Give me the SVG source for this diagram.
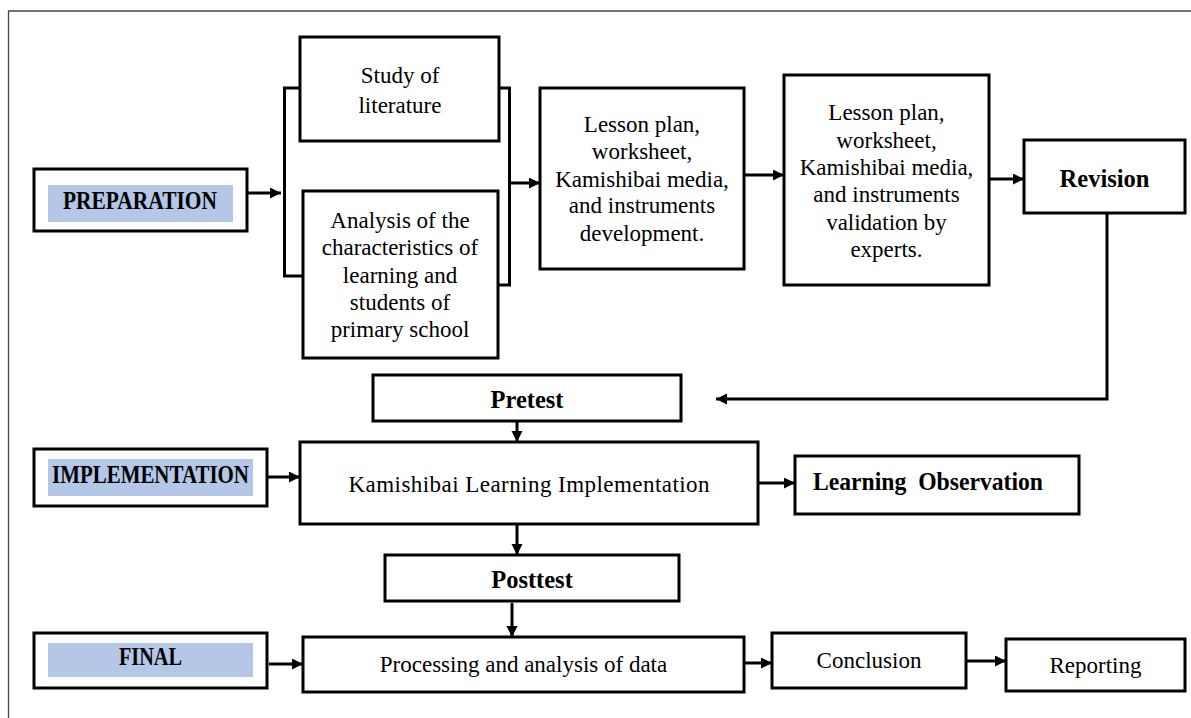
<svg xmlns="http://www.w3.org/2000/svg" width="1191" height="718" viewBox="0 0 1191 718">
<style>
.box{fill:#fff;stroke:#000;stroke-width:3}
.blue{fill:#B4C7E7}
.t{font-family:"Liberation Serif","Times New Roman",serif;font-size:23px;fill:#000;text-anchor:middle}
.b{font-family:"Liberation Serif","Times New Roman",serif;font-size:24.5px;font-weight:bold;fill:#000;text-anchor:middle}
.c{fill:none;stroke:#000;stroke-width:3}
</style>
<defs>
<marker id="ah" markerUnits="userSpaceOnUse" markerWidth="12" markerHeight="12" refX="11" refY="5.5" orient="auto">
<path d="M0,0 L11,5.5 L0,11 z" fill="#000"/>
</marker>
</defs>
<rect width="1191" height="718" fill="#fff"/>
<path d="M1191,11 H8.5 V718" fill="none" stroke="#444" stroke-width="1.3"/>

<g id="preparation">
<rect class="box" x="34" y="169" width="213" height="62"/>
<rect class="blue" x="48" y="185" width="185" height="37"/>
<text class="b" x="140" y="209" textLength="154" lengthAdjust="spacingAndGlyphs">PREPARATION</text>
</g>
<g id="study">
<rect class="box" x="300" y="37" width="199" height="104"/>
<text class="t" x="400" y="83">Study of</text>
<text class="t" x="400" y="113">literature</text>
</g>
<g id="analysis">
<rect class="box" x="303" y="191" width="195" height="167"/>
<text class="t" x="400" y="228">Analysis of the</text>
<text class="t" x="400" y="255">characteristics of</text>
<text class="t" x="400" y="283">learning and</text>
<text class="t" x="400" y="310">students of</text>
<text class="t" x="400" y="337">primary school</text>
</g>
<g id="development">
<rect class="box" x="540" y="88" width="204" height="181"/>
<text class="t" x="642" y="132">Lesson plan,</text>
<text class="t" x="642" y="159">worksheet,</text>
<text class="t" x="642" y="187">Kamishibai media,</text>
<text class="t" x="642" y="213">and instruments</text>
<text class="t" x="642" y="241">development.</text>
</g>
<g id="validation">
<rect class="box" x="784" y="75" width="205" height="210"/>
<text class="t" x="886.5" y="120">Lesson plan,</text>
<text class="t" x="886.5" y="148">worksheet,</text>
<text class="t" x="886.5" y="175">Kamishibai media,</text>
<text class="t" x="886.5" y="202">and instruments</text>
<text class="t" x="886.5" y="230">validation by</text>
<text class="t" x="886.5" y="257">experts.</text>
</g>
<g id="revision">
<rect class="box" x="1024" y="140" width="161" height="73"/>
<text class="b" x="1104.5" y="187">Revision</text>
</g>
<g id="pretest">
<rect class="box" x="373" y="375" width="308" height="46"/>
<text class="b" x="527" y="408">Pretest</text>
</g>
<g id="implementation">
<rect class="box" x="34" y="449" width="233" height="57"/>
<rect class="blue" x="48" y="459" width="205" height="37"/>
<text class="b" x="150.5" y="483" textLength="197" lengthAdjust="spacingAndGlyphs">IMPLEMENTATION</text>
</g>
<g id="kamishibai">
<rect class="box" x="300" y="442" width="458" height="82"/>
<text class="t" x="529" y="492" textLength="361" lengthAdjust="spacing">Kamishibai Learning Implementation</text>
</g>
<g id="observation">
<rect class="box" x="795" y="456" width="284" height="58"/>
<text class="b" x="813" y="490" style="text-anchor:start;white-space:pre" textLength="230" lengthAdjust="spacingAndGlyphs">Learning  Observation</text>
</g>
<g id="posttest">
<rect class="box" x="385" y="555" width="294" height="46"/>
<text class="b" x="532" y="588">Posttest</text>
</g>
<g id="final">
<rect class="box" x="34" y="633" width="233" height="55"/>
<rect class="blue" x="48" y="643" width="205" height="34"/>
<text class="b" x="150.5" y="665" textLength="63" lengthAdjust="spacingAndGlyphs">FINAL</text>
</g>
<g id="processing">
<rect class="box" x="303" y="637" width="441" height="55"/>
<text class="t" x="523.5" y="672">Processing and analysis of data</text>
</g>
<g id="conclusion">
<rect class="box" x="772" y="633" width="194" height="55"/>
<text class="t" x="869" y="668">Conclusion</text>
</g>
<g id="reporting">
<rect class="box" x="1006" y="639" width="179" height="52"/>
<text class="t" x="1095.5" y="673">Reporting</text>
</g>

<g id="connectors">
<path class="c" d="M300,88 H284.5 V276 H303"/>
<path class="c" d="M499,88 H509.5 V285 H498"/>
<path class="c" d="M247,193 H281" marker-end="url(#ah)"/>
<path class="c" d="M509,183 H540" marker-end="url(#ah)"/>
<path class="c" d="M744,175 H784" marker-end="url(#ah)"/>
<path class="c" d="M989,179 H1024" marker-end="url(#ah)"/>
<path class="c" d="M1107,213 V399 H716" marker-end="url(#ah)"/>
<path class="c" d="M517,421 V442" marker-end="url(#ah)"/>
<path class="c" d="M267,477 H300" marker-end="url(#ah)"/>
<path class="c" d="M758,483 H795" marker-end="url(#ah)"/>
<path class="c" d="M517,524 V555" marker-end="url(#ah)"/>
<path class="c" d="M512,603 V637" marker-end="url(#ah)"/>
<path class="c" d="M269,664 H303" marker-end="url(#ah)"/>
<path class="c" d="M744,663 H772" marker-end="url(#ah)"/>
<path class="c" d="M966,661 H1006" marker-end="url(#ah)"/>
</g>
</svg>
